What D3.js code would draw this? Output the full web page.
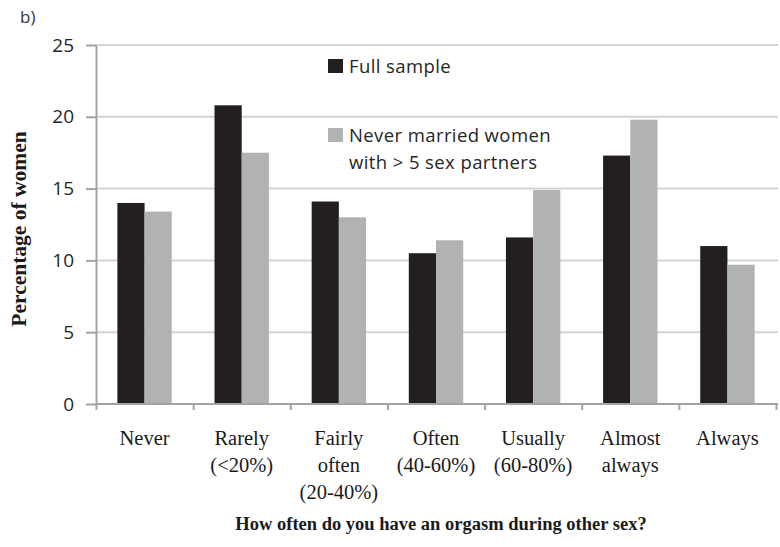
<!DOCTYPE html>
<html>
<head>
<meta charset="utf-8">
<script src="https://cdn.jsdelivr.net/npm/d3@7"></script>
<style>
  body { margin: 0; background: #fff; }
</style>
</head>
<body>
<div id="chart"></div>
<script>
var categories = ['Never', 'Rarely', 'Fairly often', 'Often', 'Usually', 'Almost always', 'Always'];
var categoryLines = [
  ['Never'],
  ['Rarely', '(<20%)'],
  ['Fairly', 'often', '(20-40%)'],
  ['Often', '(40-60%)'],
  ['Usually', '(60-80%)'],
  ['Almost', 'always'],
  ['Always']
];
var seriesNames = ['Full sample', 'Never married women with > 5 sex partners'];
var fullSample = [14.0, 20.8, 14.1, 10.5, 11.6, 17.3, 11.0];
var neverMarried = [13.4, 17.5, 13.0, 11.4, 14.9, 19.8, 9.7];
var yTicks = [0, 5, 10, 15, 20, 25];

(function() {

  'use strict'

  var Chart = function(element) {
    this.element = element;
    this.width = 780;
    this.height = 547;

    this.left = 96;
    this.right = 776;
    this.top = 45;
    this.bottom = 404;

    this.colors = ['#231f20', '#b1b2b4'];
    this.axisColor = '#a3a3a3';
    this.gridColor = '#d3d3d3';
    this.sansFont = '\'Open Sans\', sans-serif';
    this.serifFont = '\'Liberation Serif\', \'Times New Roman\', serif';
  };

  Chart.prototype.init = function() {
    this.svg = d3.select(this.element).append('svg')
      .attr('width', this.width)
      .attr('height', this.height);

    this.x0 = d3.scaleBand()
      .domain(categories)
      .range([this.left, this.right])
      .paddingInner(0.44)
      .paddingOuter(0.22);

    this.x1 = d3.scaleBand()
      .domain(seriesNames)
      .range([0, this.x0.bandwidth()]);

    this.y = d3.scaleLinear()
      .domain([0, 25])
      .range([this.bottom, this.top]);

    this.setGrid().setBars().setAxes().setLabels().setLegend();
  };

  Chart.prototype.setGrid = function() {
    var y = this.y;
    this.svg.append('g')
      .selectAll('line')
      .data(yTicks.filter(function(d) { return d > 0; }))
      .enter().append('line')
      .attr('x1', this.left)
      .attr('x2', this.right + 2)
      .attr('y1', function(d) { return y(d); })
      .attr('y2', function(d) { return y(d); })
      .attr('stroke', this.gridColor)
      .attr('stroke-width', 2);
    return this;
  };

  Chart.prototype.setBars = function() {
    var x0 = this.x0, x1 = this.x1, y = this.y, colors = this.colors;
    var rows = categories.map(function(c, i) {
      return { cat: c, values: [fullSample[i], neverMarried[i]] };
    });

    this.svg.append('g')
      .selectAll('g')
      .data(rows)
      .enter().append('g')
      .attr('transform', function(d) { return 'translate(' + x0(d.cat) + ',0)'; })
      .selectAll('rect')
      .data(function(d) {
        return d.values.map(function(v, j) { return { name: seriesNames[j], value: v, idx: j }; });
      })
      .enter().append('rect')
      .attr('x', function(d) { return x1(d.name); })
      .attr('width', x1.bandwidth())
      .attr('y', function(d) { return y(d.value); })
      .attr('height', function(d) { return y(0) - y(d.value); })
      .attr('fill', function(d) { return colors[d.idx]; });
    return this;
  };

  Chart.prototype.setAxes = function() {
    var yAxis = this.svg.append('g')
      .attr('transform', 'translate(' + this.left + ',0)')
      .call(d3.axisLeft(this.y).tickValues(yTicks).tickSize(10).tickSizeOuter(0).tickPadding(12));

    var bounds = d3.scaleLinear()
      .domain([0, categories.length])
      .range([this.left, this.right]);

    var xAxis = this.svg.append('g')
      .attr('transform', 'translate(0,' + this.bottom + ')')
      .call(d3.axisBottom(bounds).tickValues(d3.range(categories.length + 1)).tickFormat('').tickSize(6).tickSizeOuter(0));

    xAxis.select('.domain').attr('d', 'M' + this.left + ',0H' + (this.right + 2));

    [yAxis, xAxis].forEach(function(g) {
      g.select('.domain').attr('stroke', this.axisColor).attr('stroke-width', 2);
      g.selectAll('.tick line').attr('stroke', this.axisColor).attr('stroke-width', 2);
    }, this);

    yAxis.selectAll('.tick text')
      .attr('font-family', this.sansFont)
      .attr('font-size', '19px')
      .attr('fill', '#262626');
    return this;
  };

  Chart.prototype.setLabels = function() {
    var x0 = this.x0;
    var labels = this.svg.append('g')
      .selectAll('text')
      .data(categories)
      .enter().append('text')
      .attr('x', function(d) { return x0(d) + x0.bandwidth() / 2; })
      .attr('y', 445)
      .attr('text-anchor', 'middle')
      .attr('font-family', this.serifFont)
      .attr('font-size', '20.5px')
      .attr('fill', '#1a1a1a');

    labels.selectAll('tspan')
      .data(function(d, i) { return categoryLines[i]; })
      .enter().append('tspan')
      .attr('x', function() { return this.parentNode.getAttribute('x'); })
      .attr('dy', function(d, i) { return i === 0 ? 0 : 27; })
      .text(String);

    this.svg.append('text')
      .attr('x', 441)
      .attr('y', 530)
      .attr('text-anchor', 'middle')
      .attr('font-family', this.serifFont)
      .attr('font-weight', 'bold')
      .attr('font-size', '18.5px')
      .attr('fill', '#1a1a1a')
      .text('How often do you have an orgasm during other sex?');

    this.svg.append('text')
      .attr('transform', 'translate(26,229) rotate(-90)')
      .attr('text-anchor', 'middle')
      .attr('font-family', this.serifFont)
      .attr('font-weight', 'bold')
      .attr('font-size', '21.5px')
      .attr('fill', '#1a1a1a')
      .text('Percentage of women');

    this.svg.append('text')
      .attr('x', 20)
      .attr('y', 23)
      .attr('font-family', this.sansFont)
      .attr('font-size', '17px')
      .attr('fill', '#333')
      .text('b)');
    return this;
  };

  Chart.prototype.setLegend = function() {
    var legend = [
      { color: this.colors[0], lines: ['Full sample'], y: 59 },
      { color: this.colors[1], lines: ['Never married women', 'with > 5 sex partners'], y: 128 }
    ];
    var g = this.svg.append('g')
      .selectAll('g')
      .data(legend)
      .enter().append('g');

    g.append('rect')
      .attr('x', 328)
      .attr('y', function(d) { return d.y; })
      .attr('width', 15)
      .attr('height', 14)
      .attr('fill', function(d) { return d.color; });

    g.append('text')
      .attr('x', 349)
      .attr('y', function(d) { return d.y + 14; })
      .attr('font-family', this.sansFont)
      .attr('font-size', '18.5px')
      .attr('letter-spacing', '0.4px')
      .attr('fill', '#262626')
      .selectAll('tspan')
      .data(function(d) { return d.lines; })
      .enter().append('tspan')
      .attr('x', 349)
      .attr('dy', function(d, i) { return i === 0 ? 0 : 27; })
      .text(String);
    return this;
  };

  var app = new Chart('#chart');
  app.init();

})();
</script>
</body>
</html>
